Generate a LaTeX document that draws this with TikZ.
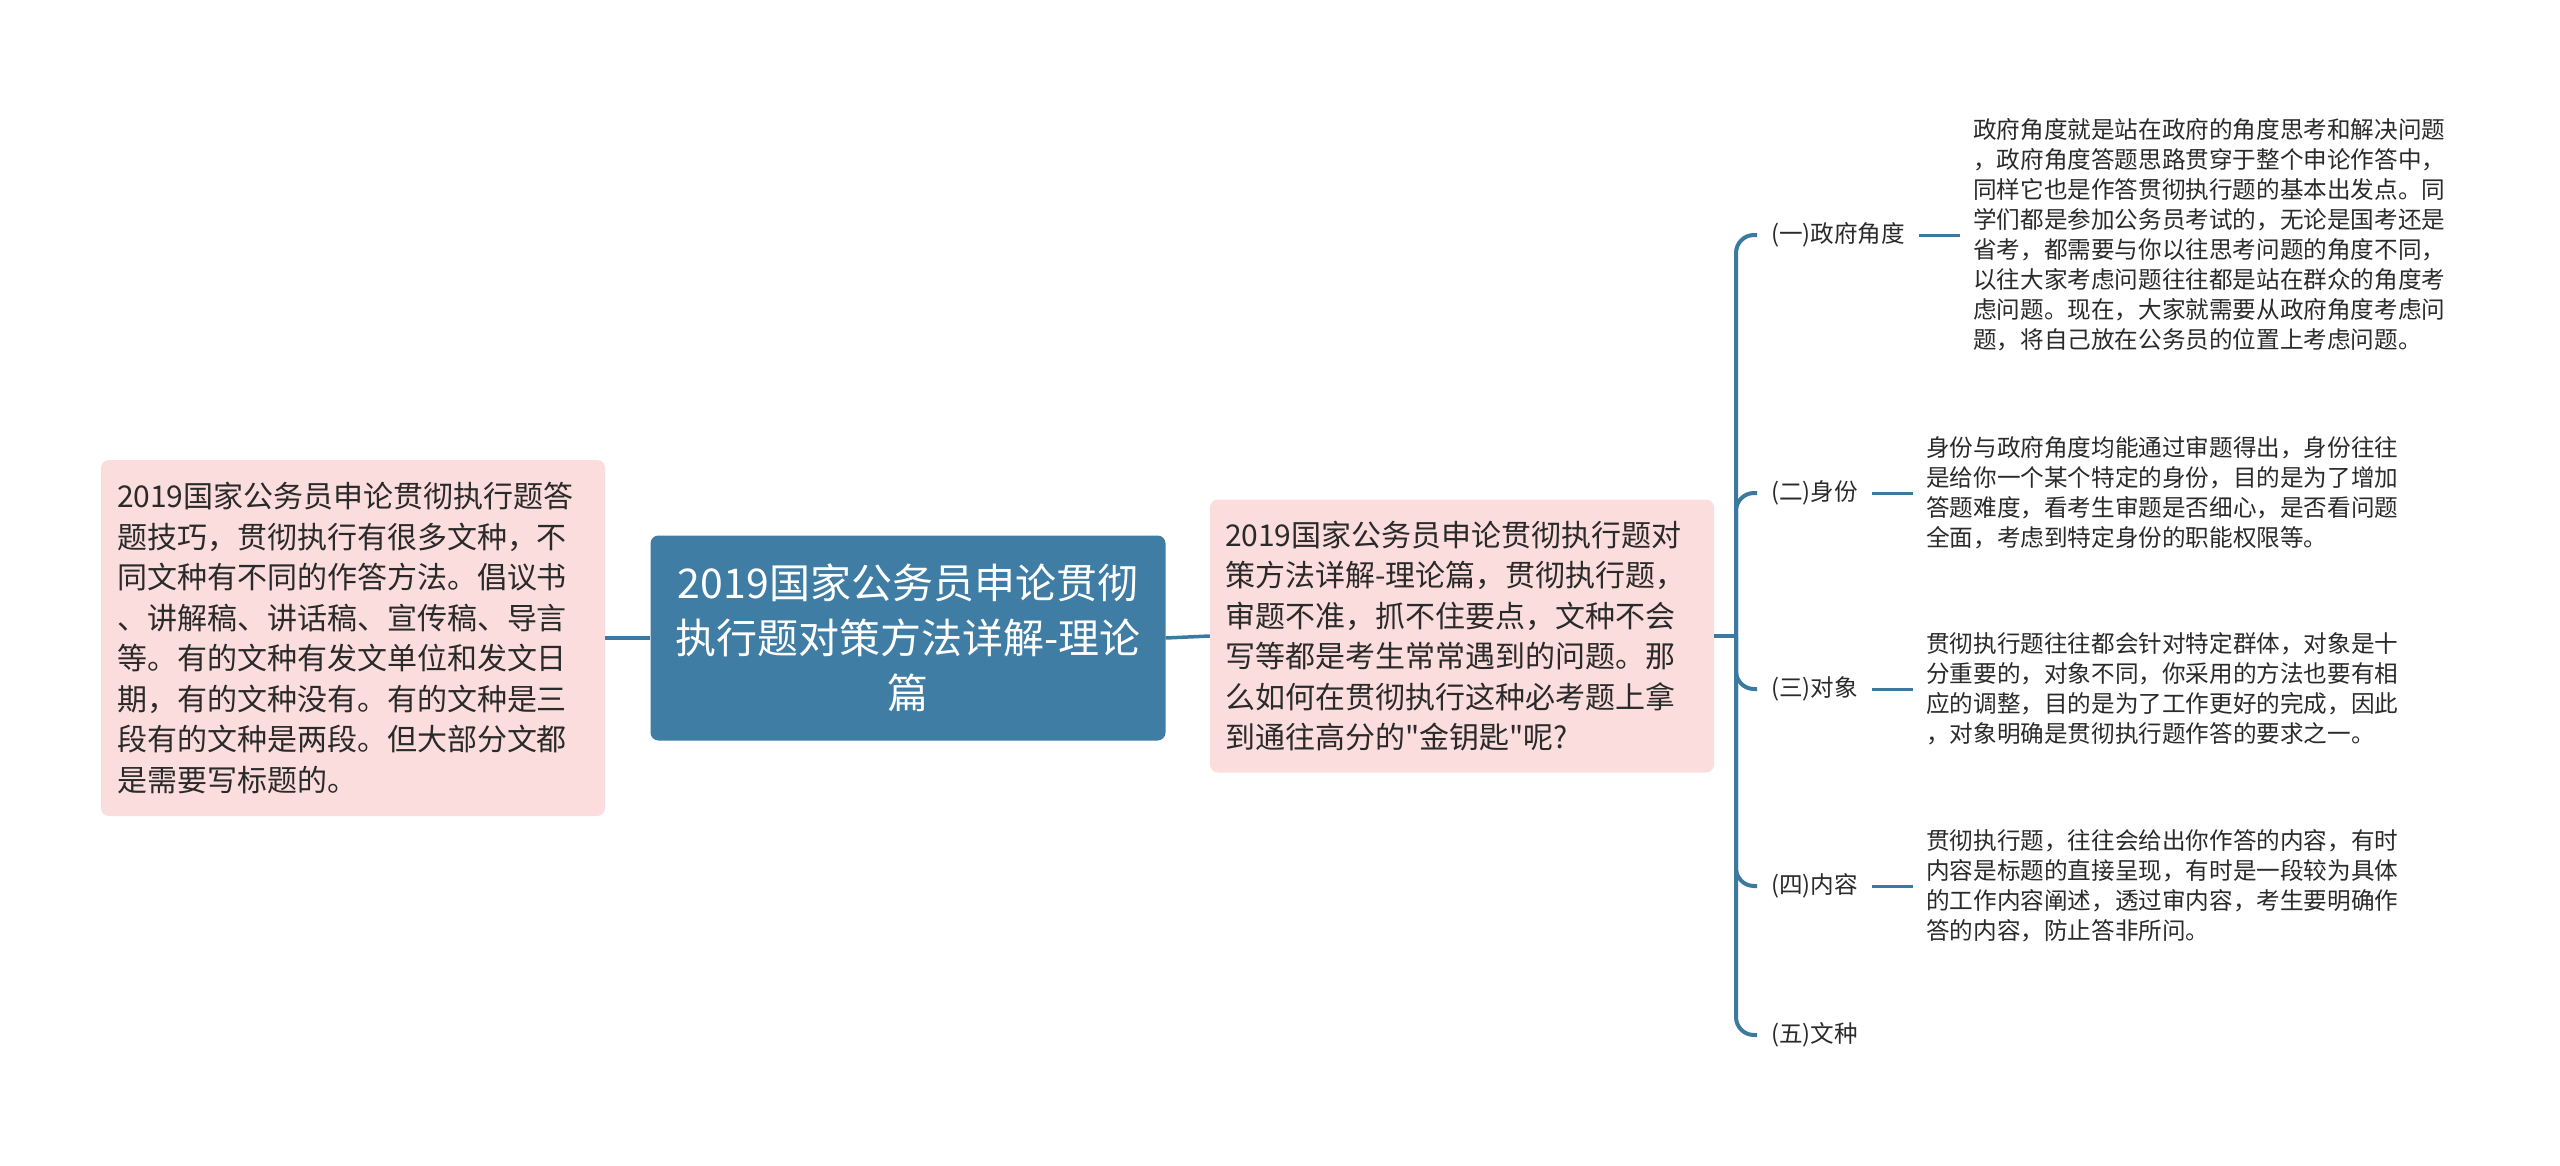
\documentclass[tikz,border=0pt]{standalone}
\usepackage{fontspec}
\setmainfont{Noto Sans CJK SC}[Ligatures=TeXOff]
\definecolor{topicblue}{HTML}{3F7DA4}
\definecolor{linkblue}{HTML}{3C79A0}
\definecolor{notepink}{HTML}{FBDDDD}
\definecolor{inkgray}{HTML}{2A2A2A}

\begin{document}
\begin{tikzpicture}[x=1pt,y=-1pt,
  link/.style={draw=linkblue,line width=3.5pt},
  pinkbox/.style={fill=notepink,rounded corners=8pt,text=inkgray,align=left,
    font=\fontsize{30}{40.5}\selectfont},
  branch/.style={anchor=west,inner xsep=14pt,text=inkgray,
    font=\fontsize{23.6}{30}\selectfont},
  note/.style={anchor=west,inner xsep=13pt,align=left,text=inkgray,
    font=\fontsize{23.6}{30}\selectfont}]
\useasboundingbox (0,0) rectangle (2560,1165);

\node[fill=topicblue,rounded corners=8pt,text=white,align=center,
  text width=483pt,inner xsep=16pt,minimum height=205pt,
  font=\fontsize{41}{55}\selectfont] (root) at (908,638)
  {2019国家公务员申论贯彻\\执行题对策方法详解-理论\\篇};

\node[pinkbox,text width=472pt,inner xsep=16pt,minimum height=356pt] (summary) at (353,638)
  {2019国家公务员申论贯彻执行题答\\
   题技巧，贯彻执行有很多文种，不\\
   同文种有不同的作答方法。倡议书\\
   、讲解稿、讲话稿、宣传稿、导言\\
   等。有的文种有发文单位和发文日\\
   期，有的文种没有。有的文种是三\\
   段有的文种是两段。但大部分文都\\
   是需要写标题的。};

\node[pinkbox,text width=474pt,inner xsep=15pt,minimum height=273pt] (intro) at (1462,636)
  {2019国家公务员申论贯彻执行题对\\
   策方法详解-理论篇，贯彻执行题，\\
   审题不准，抓不住要点，文种不会\\
   写等都是考生常常遇到的问题。那\\
   么如何在贯彻执行这种必考题上拿\\
   到通往高分的"金钥匙"呢?};

\coordinate (jn) at (1736,636);

\node[branch] (zhengfu) at (1757,235) {(一)政府角度};
\node[branch] (shenfen) at (1757,493) {(二)身份};
\node[branch] (duixiang) at (1757,689) {(三)对象};
\node[branch] (neirong) at (1757,886) {(四)内容};
\node[branch] (wenzhong) at (1757,1035) {(五)文种};

\node[note] (zhengfunote) at (1960,235)
  {政府角度就是站在政府的角度思考和解决问题\\
   ，政府角度答题思路贯穿于整个申论作答中，\\
   同样它也是作答贯彻执行题的基本出发点。同\\
   学们都是参加公务员考试的，无论是国考还是\\
   省考，都需要与你以往思考问题的角度不同，\\
   以往大家考虑问题往往都是站在群众的角度考\\
   虑问题。现在，大家就需要从政府角度考虑问\\
   题，将自己放在公务员的位置上考虑问题。};
\node[note] (shenfennote) at (1913,493)
  {身份与政府角度均能通过审题得出，身份往往\\
   是给你一个某个特定的身份，目的是为了增加\\
   答题难度，看考生审题是否细心，是否看问题\\
   全面，考虑到特定身份的职能权限等。};
\node[note] (duixiangnote) at (1913,689)
  {贯彻执行题往往都会针对特定群体，对象是十\\
   分重要的，对象不同，你采用的方法也要有相\\
   应的调整，目的是为了工作更好的完成，因此\\
   ，对象明确是贯彻执行题作答的要求之一。};
\node[note] (neirongnote) at (1913,886)
  {贯彻执行题，往往会给出你作答的内容，有时\\
   内容是标题的直接呈现，有时是一段较为具体\\
   的工作内容阐述，透过审内容，考生要明确作\\
   答的内容，防止答非所问。};

% connectors
\draw[link] (summary.east) -- (root.west);
\draw[link] (root.east) -- (intro.west);
\draw[link] (intro.east) -- (jn);
\foreach \b in {zhengfu,shenfen,duixiang,neirong,wenzhong}
  \draw[link,line width=4pt,rounded corners=18pt] (jn) |- (\b.west);
\foreach \b in {zhengfu,shenfen,duixiang,neirong}
  \draw[link,line width=3pt] (\b.east) -- (\b note.west);
\end{tikzpicture}
\end{document}
